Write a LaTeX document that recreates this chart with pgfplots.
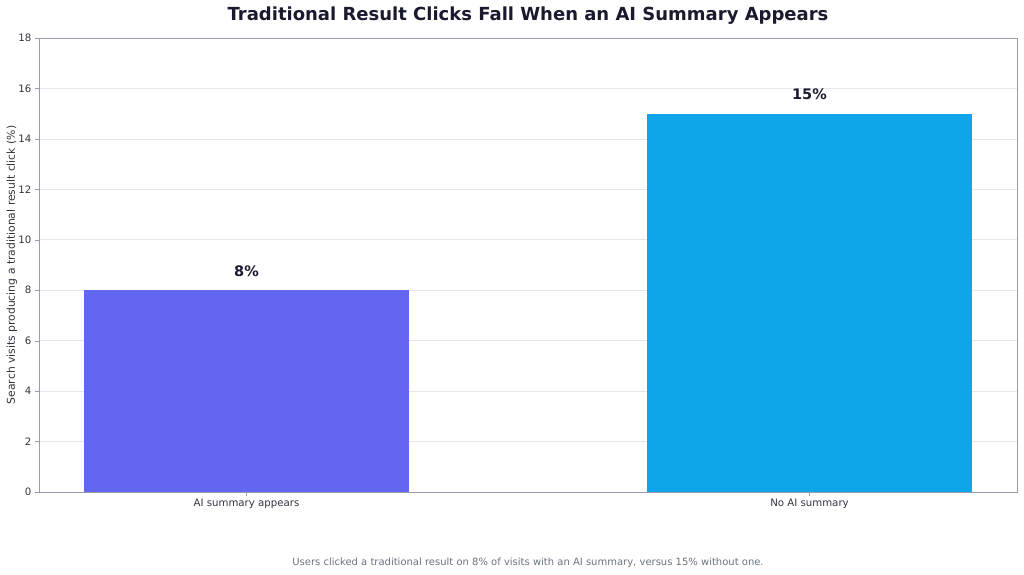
\documentclass[border=0pt]{standalone}
\usepackage{pgfplots}
\pgfplotsset{compat=1.18}
\usepackage{fontspec}
\setmainfont{DejaVu Sans}
\definecolor{barA}{HTML}{6366F1}
\definecolor{barB}{HTML}{0EA5E9}
\definecolor{titlec}{HTML}{1A1A2E}
\definecolor{framec}{HTML}{9A9AB0}
\definecolor{gridc}{HTML}{E5E7EB}
\definecolor{tickc}{HTML}{333340}
\definecolor{capc}{HTML}{6B7280}
\begin{document}
\begin{tikzpicture}
\path[use as bounding box] (0pt,0pt) rectangle (1024pt,574pt);
\begin{axis}[
    at={(39pt,82pt)}, anchor=south west,
    scale only axis, width=978pt, height=454pt,
    xmin=-0.3686, xmax=1.3686, ymin=0, ymax=18,
    ytick={0,2,...,18},
    xtick={0,1}, xticklabels={AI summary appears, No AI summary},
    ybar, bar width=0.577, bar shift=0pt,
    axis line style={framec},
    major tick length=4pt,
    tick style={framec},
    tick align=outside,
    xtick pos=bottom, ytick pos=left,
    ymajorgrids, grid style={gridc, line width=0.6pt},
    every tick label/.append style={font=\fontsize{10.2}{12}\selectfont, text=tickc},
    /pgf/number format/assume math mode=true,
    ylabel={Search visits producing a traditional result click (\%)},
    every axis y label/.style={at={(axis description cs:0,0.5)}, rotate=90, anchor=center, yshift=27pt,
        font=\fontsize{10.8}{13}\selectfont, text=tickc},
    nodes near coords={\pgfmathprintnumber{\pgfplotspointmeta}\%},
    every node near coord/.append style={font=\bfseries\fontsize{14.5}{16}\selectfont, text=titlec, yshift=10pt},
]
\addplot[fill=barA, draw=none] coordinates {(0,8)};
\addplot[fill=barB, draw=none] coordinates {(1,15)};
\end{axis}
\node[font=\bfseries\fontsize{18}{20}\selectfont, text=titlec] at (528pt,558pt) {Traditional Result Clicks Fall When an AI Summary Appears};
\node[font=\fontsize{10}{12}\selectfont, text=capc] at (528pt,11pt) {Users clicked a traditional result on 8\% of visits with an AI summary, versus 15\% without one.};
\end{tikzpicture}
\end{document}
